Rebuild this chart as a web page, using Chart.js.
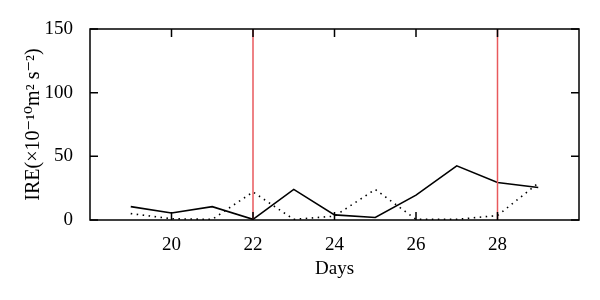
<!DOCTYPE html>
<html>
<head>
<meta charset="utf-8">
<script src="https://cdn.jsdelivr.net/npm/chart.js@4"></script>
<style>
  html, body { margin: 0; padding: 0; background: #fff; }
  #wrap { width: 600px; height: 300px; }
</style>
</head>
<body>
<div id="wrap"><canvas id="chart-ire"></canvas></div>
<script>
// Data
const days = [19, 20, 21, 22, 23, 24, 25, 26, 27, 28, 29];
const ireSolid = [10.5, 5.5, 10.5, 0.5, 24, 4, 2, 19.5, 42.5, 29.5, 25.5];
const ireDotted = [5, 1, 0.5, 22, 0.5, 3, 24, 0.5, 0.5, 3.5, 29];
const markerDays = [22, 28];
const xTicks = [20, 22, 24, 26, 28];
const yTicks = [0, 50, 100, 150];

const FONT = "'Liberation Serif', 'DejaVu Serif', serif";

// frame + inward tick marks, like the original plot
const framePlugin = {
  id: 'frame',
  afterDatasetsDraw(chart) {
    const { ctx, chartArea: a, scales } = chart;
    ctx.save();
    ctx.strokeStyle = '#000';
    ctx.lineWidth = 1.5;
    ctx.strokeRect(a.left, a.top, a.right - a.left, a.bottom - a.top);
    ctx.beginPath();
    xTicks.forEach(v => {
      const px = scales.x.getPixelForValue(v);
      ctx.moveTo(px, a.bottom); ctx.lineTo(px, a.bottom - 8);
      ctx.moveTo(px, a.top); ctx.lineTo(px, a.top + 8);
    });
    yTicks.forEach(v => {
      const py = scales.y.getPixelForValue(v);
      ctx.moveTo(a.left, py); ctx.lineTo(a.left + 8, py);
      ctx.moveTo(a.right, py); ctx.lineTo(a.right - 8, py);
    });
    ctx.stroke();
    ctx.restore();
  }
};

const redLines = markerDays.map(d => ({
  data: [{ x: d, y: 0 }, { x: d, y: 150 }],
  borderColor: '#e8595c',
  borderWidth: 1.5,
  pointRadius: 0
}));

const ctx = document.getElementById('chart-ire').getContext('2d');
new Chart(ctx, {
  type: 'line',
  data: {
    datasets: [
      ...redLines,
      {
        label: 'solid',
        data: days.map((d, i) => ({ x: d, y: ireSolid[i] })),
        borderColor: '#000',
        borderWidth: 1.6,
        pointRadius: 0
      },
      {
        label: 'dotted',
        data: days.map((d, i) => ({ x: d, y: ireDotted[i] })),
        borderColor: '#000',
        borderWidth: 1.6,
        borderDash: [1.5, 4.5],
        pointRadius: 0
      }
    ]
  },
  options: {
    responsive: true,
    maintainAspectRatio: false,
    animation: false,
    layout: { padding: { top: 29, right: 21, left: 0, bottom: 0 } },
    plugins: { legend: { display: false }, tooltip: { enabled: false } },
    scales: {
      x: {
        type: 'linear',
        min: 18,
        max: 30,
        afterFit: s => { s.height = 80; },
        afterBuildTicks: s => { s.ticks = xTicks.map(v => ({ value: v })); },
        grid: { display: false },
        border: { display: false },
        ticks: { color: '#000', padding: 6, font: { family: FONT, size: 19 } },
        title: {
          display: true,
          text: 'Days',
          color: '#000',
          padding: { top: 0, bottom: 20 },
          font: { family: FONT, size: 19 }
        }
      },
      y: {
        min: 0,
        max: 150,
        afterFit: s => { s.width = 90; },
        afterBuildTicks: s => { s.ticks = yTicks.map(v => ({ value: v })); },
        grid: { display: false },
        border: { display: false },
        ticks: { color: '#000', padding: 9, font: { family: FONT, size: 19 } },
        title: {
          display: true,
          text: 'IRE(×10⁻¹⁰m² s⁻²)',
          color: '#000',
          padding: { top: 22, bottom: 0 },
          font: { family: FONT, size: 20 }
        }
      }
    }
  },
  plugins: [framePlugin]
});
</script>
</body>
</html>
